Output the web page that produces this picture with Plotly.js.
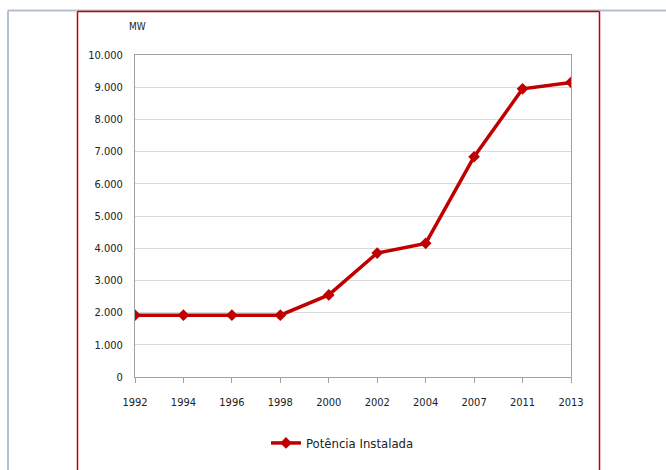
<!DOCTYPE html>
<html>
<head>
<meta charset="utf-8">
<script src="https://cdn.plot.ly/plotly-3.0.1.min.js"></script>
<style>
  html, body { margin: 0; padding: 0; background: #fff; }
  #chart { width: 666px; height: 470px; }
</style>
</head>
<body>
<div id="chart"></div>
<script>
const years = ['1992', '1994', '1996', '1998', '2000', '2002', '2004', '2007', '2011', '2013'];
const potencia = [1920, 1920, 1920, 1920, 2550, 3850, 4150, 6840, 8950, 9150];
const yTicks = [0, 1000, 2000, 3000, 4000, 5000, 6000, 7000, 8000, 9000, 10000];
const yTickLabels = ['0', '1.000', '2.000', '3.000', '4.000', '5.000', '6.000', '7.000', '8.000', '9.000', '10.000'];

const W = 666, H = 470;
const L = 135, R = 571, T = 55, B = 377;
const px = x => (x - L) / (R - L);
const py = y => (B - y) / (B - T);

const font = '"Liberation Sans Narrow", "Arial Narrow", "DejaVu Sans Condensed", sans-serif';

const trace = {
  x: years,
  y: potencia,
  type: 'scatter',
  mode: 'lines+markers',
  name: 'Potência Instalada',
  line: { color: '#C00000', width: 3.5 },
  marker: { symbol: 'diamond', size: 9, color: '#C00000' }
};

const layout = {
  width: W, height: H,
  margin: { l: L, r: W - R, t: T, b: H - B, pad: 0 },
  paper_bgcolor: '#ffffff',
  plot_bgcolor: '#ffffff',
  font: { family: font, size: 11, color: '#222' },
  showlegend: true,
  legend: {
    orientation: 'h',
    x: px(266), xanchor: 'left',
    y: py(443), yanchor: 'middle',
    font: { family: font, size: 13, color: '#222' },
    bgcolor: 'rgba(0,0,0,0)'
  },
  xaxis: {
    type: 'category',
    range: [0, years.length - 1],
    showgrid: false,
    showline: true, linecolor: '#a0a0a0', linewidth: 1,
    mirror: true,
    ticks: 'outside', ticklen: 5, tickcolor: '#a0a0a0',
    ticklabelstandoff: 10,
    tickfont: { family: font, size: 11, color: '#222' },
    zeroline: false,
    fixedrange: true
  },
  yaxis: {
    range: [0, 10000],
    tickvals: yTicks,
    ticktext: yTickLabels,
    showgrid: true, gridcolor: '#d9d9d9', gridwidth: 1,
    showline: true, linecolor: '#a0a0a0', linewidth: 1,
    mirror: true,
    ticks: '',
    ticklabelstandoff: 9,
    tickfont: { family: font, size: 11, color: '#222' },
    zeroline: false,
    fixedrange: true
  },
  annotations: [{
    text: 'MW',
    xref: 'paper', yref: 'paper',
    x: px(137), y: py(26),
    xanchor: 'center', yanchor: 'middle',
    showarrow: false,
    font: { family: font, size: 10, color: '#222' }
  }],
  shapes: [
    { type: 'line', xref: 'paper', yref: 'paper', x0: px(8), x1: px(666), y0: py(10.5), y1: py(10.5), line: { color: '#b4bfcf', width: 2 } },
    { type: 'line', xref: 'paper', yref: 'paper', x0: px(8), x1: px(8), y0: py(10.5), y1: py(470), line: { color: '#b4bfcf', width: 2 } },
    { type: 'line', xref: 'paper', yref: 'paper', x0: px(77.5), x1: px(599.5), y0: py(11.5), y1: py(11.5), line: { color: '#C00000', width: 1.5 } },
    { type: 'line', xref: 'paper', yref: 'paper', x0: px(77.5), x1: px(77.5), y0: py(11.5), y1: py(470), line: { color: '#C00000', width: 1.5 } },
    { type: 'line', xref: 'paper', yref: 'paper', x0: px(599.5), x1: px(599.5), y0: py(11.5), y1: py(470), line: { color: '#C00000', width: 1.5 } }
  ]
};

Plotly.newPlot('chart', [trace], layout, { displayModeBar: false, staticPlot: true });
</script>
</body>
</html>
